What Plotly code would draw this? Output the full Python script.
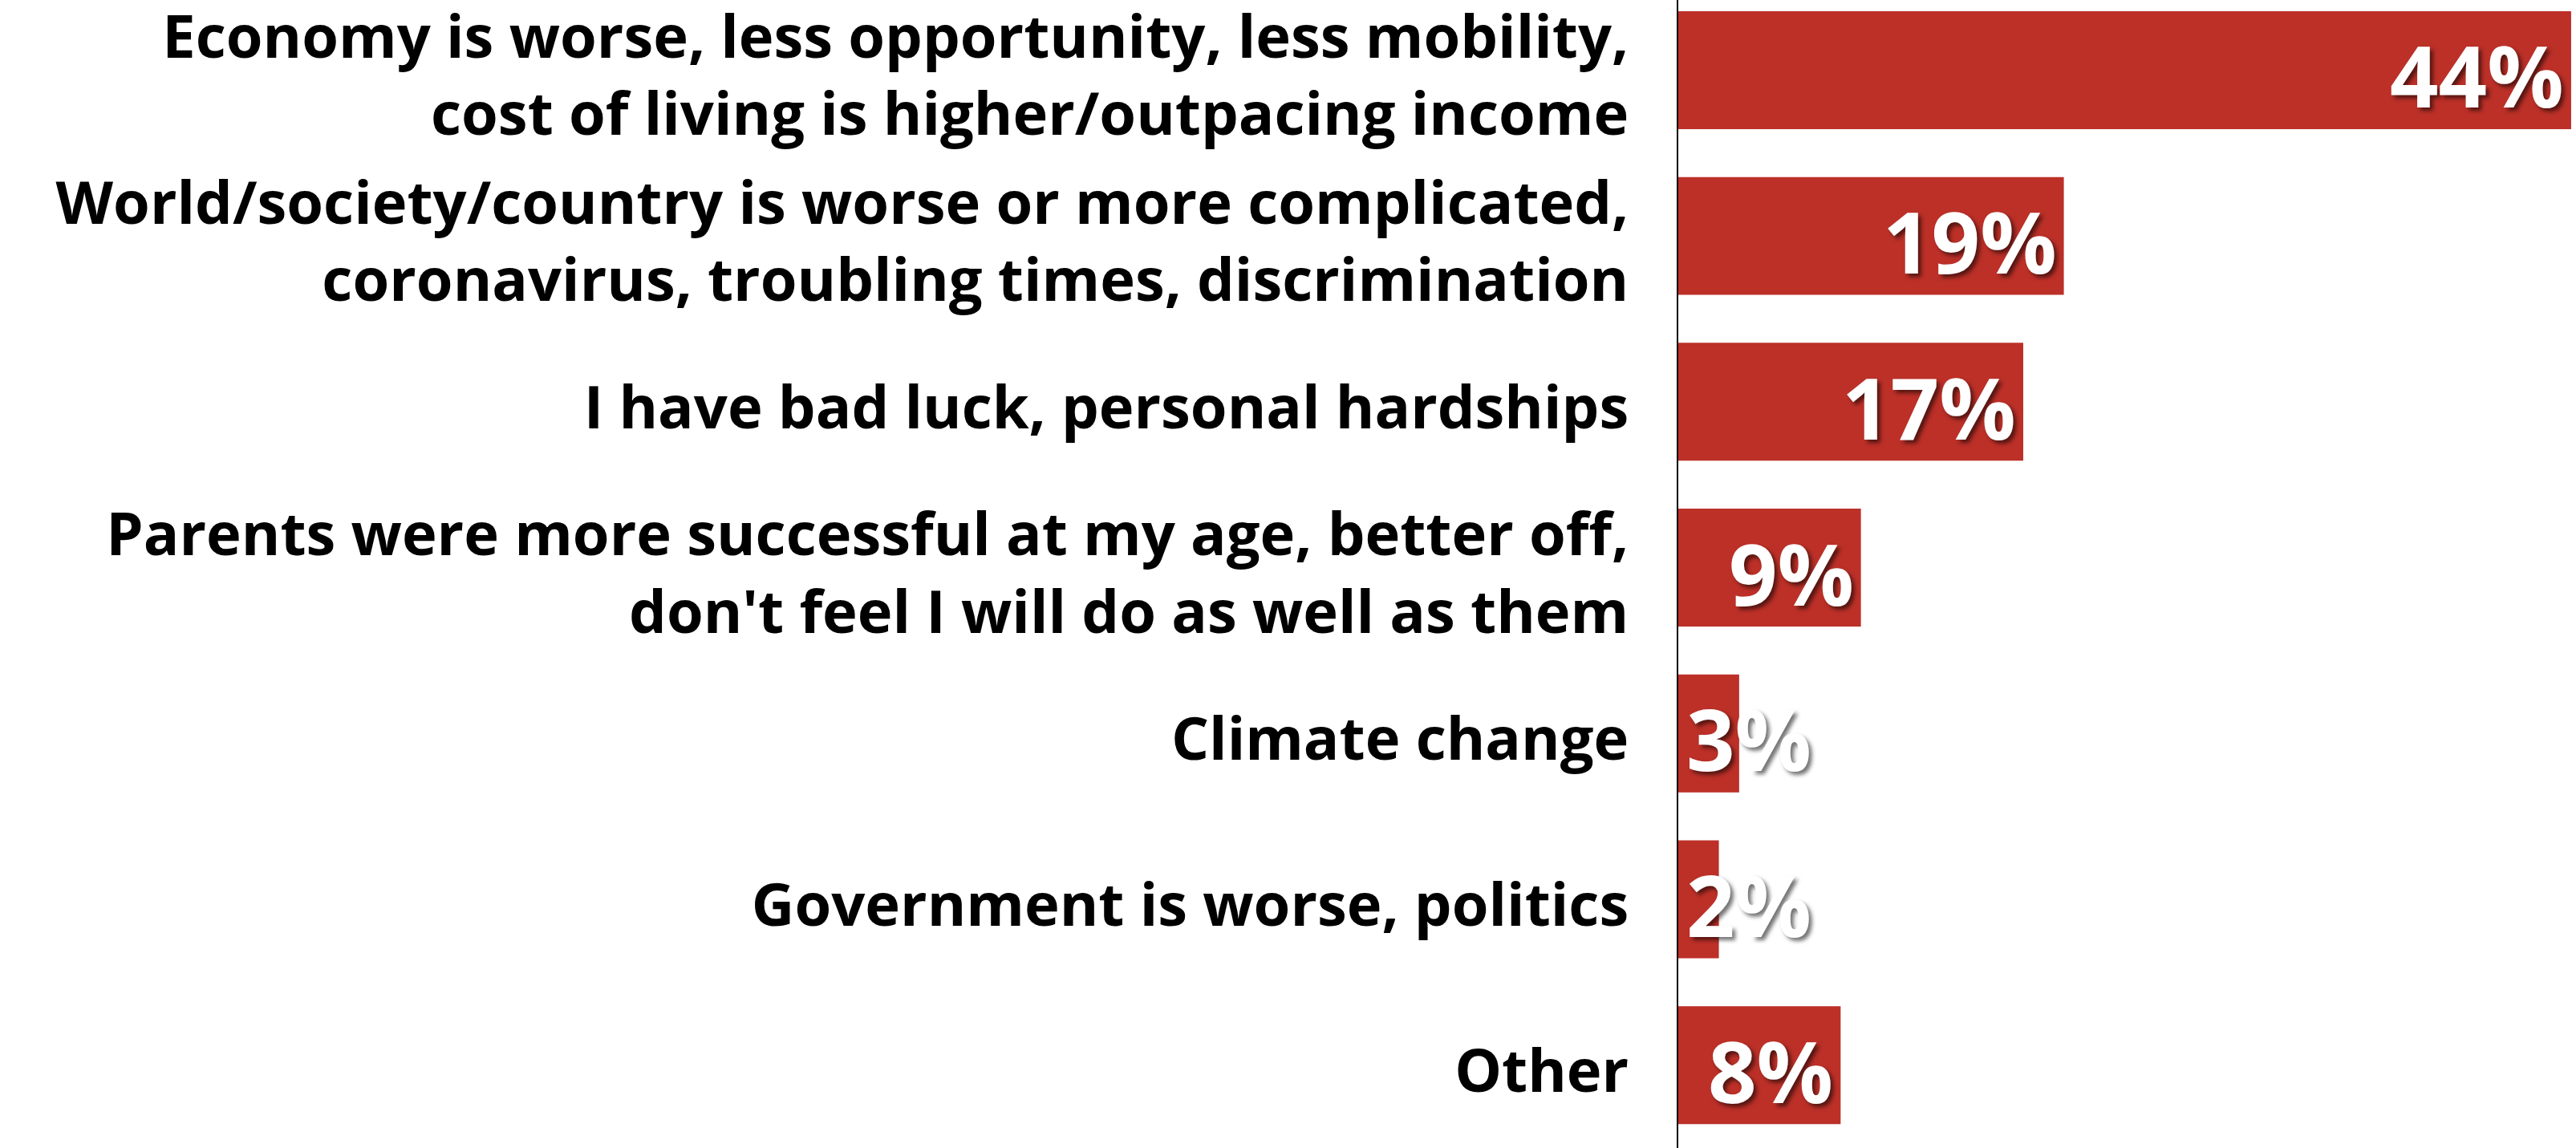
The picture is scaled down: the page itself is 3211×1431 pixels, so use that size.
import plotly.graph_objects as go

categories = [
    "Economy is worse, less opportunity, less mobility,<br>cost of living is higher/outpacing income",
    "World/society/country is worse or more complicated,<br>coronavirus, troubling times, discrimination",
    "I have bad luck, personal hardships",
    "Parents were more successful at my age, better off,<br>don't feel I will do as well as them",
    "Climate change",
    "Government is worse, politics",
    "Other",
]
values = [44, 19, 17, 9, 3, 2, 8]
value_labels = ["44%", "19%", "17%", "9%", "3%", "2%", "8%"]

BAR_COLOR = "#BC3028"
positions = list(range(len(categories)))

fig = go.Figure()
fig.add_trace(go.Bar(
    x=values,
    y=positions,
    orientation="h",
    marker=dict(color=BAR_COLOR, line=dict(width=0)),
    hoverinfo="skip",
))

annotations = []
for pos, v, lab in zip(positions, values, value_labels):
    fits = v >= 8
    annotations.append(dict(
        x=v if fits else 0,
        y=pos,
        xref="x", yref="y",
        text=lab,
        showarrow=False,
        xanchor="right" if fits else "left",
        yanchor="middle",
        xshift=-7 if fits else 8,
        yshift=-6,
        font=dict(family="Open Sans", size=106, color="white", weight="bold",
                  shadow="4px 4px 5px rgba(0,0,0,0.55)"),
    ))

fig.update_layout(
    width=3211, height=1431,
    margin=dict(l=2092, r=0, t=0, b=0),
    paper_bgcolor="white", plot_bgcolor="white",
    bargap=0.289,
    showlegend=False,
    annotations=annotations,
    xaxis=dict(range=[0, 44.24], visible=False, fixedrange=True),
    yaxis=dict(
        range=[6.5, -0.423],
        tickmode="array",
        tickvals=positions,
        ticktext=categories,
        showline=True, linecolor="black", linewidth=2,
        showgrid=False, zeroline=False,
        ticks="", ticklabelstandoff=45,
        ticklabeloverflow="allow",
        ticklabelshift=-7,
        tickfont=dict(family="Open Sans", size=74, color="black", weight="bold"),
        automargin=False,
    ),
)

fig.write_html("out.html", config={"displayModeBar": False},
               post_script="document.body.style.margin='0px';")
